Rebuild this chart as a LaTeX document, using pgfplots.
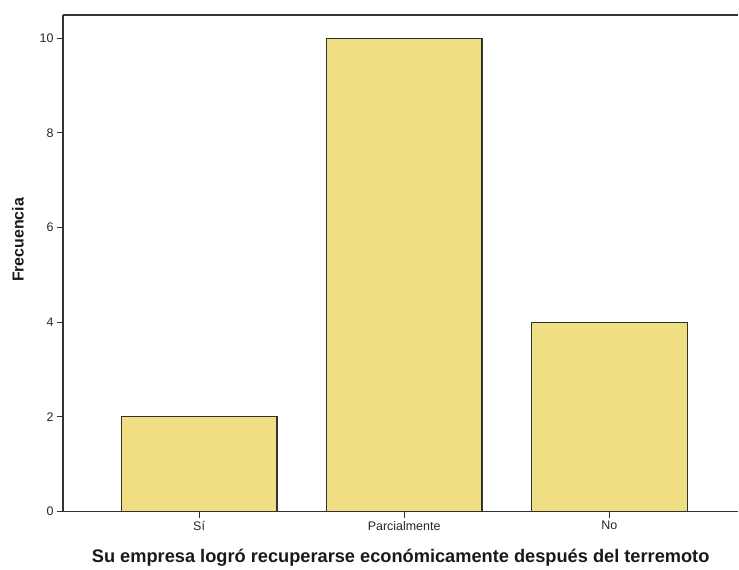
\documentclass[border=0pt]{standalone}
\usepackage{fontspec}
\setmainfont{Liberation Sans}
\usepackage{pgfplots}
\pgfplotsset{compat=1.18}
\definecolor{barfill}{RGB}{240,222,130}
\definecolor{edge}{RGB}{50,50,50}
\begin{document}
\begin{tikzpicture}
\begin{axis}[
  scale only axis, width=676bp, height=497bp,
  xmin=-0.664, xmax=2.63, ymin=0, ymax=10.49,
  axis x line*=bottom, axis y line*=left,
  axis line style={edge, line width=1.2bp},
  ytick={0,2,4,6,8,10},
  xtick={0,1,2}, xticklabels={Sí,Parcialmente,No},
  tick align=outside, major tick length=6bp,
  tick style={edge, line width=1bp},
  /pgf/number format/assume math mode=true,
  ticklabel style={font=\fontsize{12.5}{14}\selectfont, text=black!85},
  ybar, bar width=0.76,
  clip=false,
  xlabel={Su empresa logró recuperarse económicamente después del terremoto},
  ylabel={Frecuencia},
  xlabel style={font=\bfseries\fontsize{18.3}{20}\selectfont, text=black!90,
    at={([yshift=-51bp]axis description cs:0.5,0)}, anchor=base},
  ylabel style={font=\bfseries\fontsize{16}{18}\selectfont, text=black!90,
    at={([xshift=-45bp]axis description cs:0,0.547)}, anchor=center},
]
\addplot[fill=barfill, draw=edge, line width=1.2bp] coordinates {(0,2) (1,10) (2,4)};
\draw[edge, line width=1.2bp] (rel axis cs:0,1) -- (rel axis cs:1,1);
\path (rel axis cs:0,0) ++(-63bp,-55bp);
\path (rel axis cs:1,1) ++(0bp,15bp);
\end{axis}
\end{tikzpicture}
\end{document}
